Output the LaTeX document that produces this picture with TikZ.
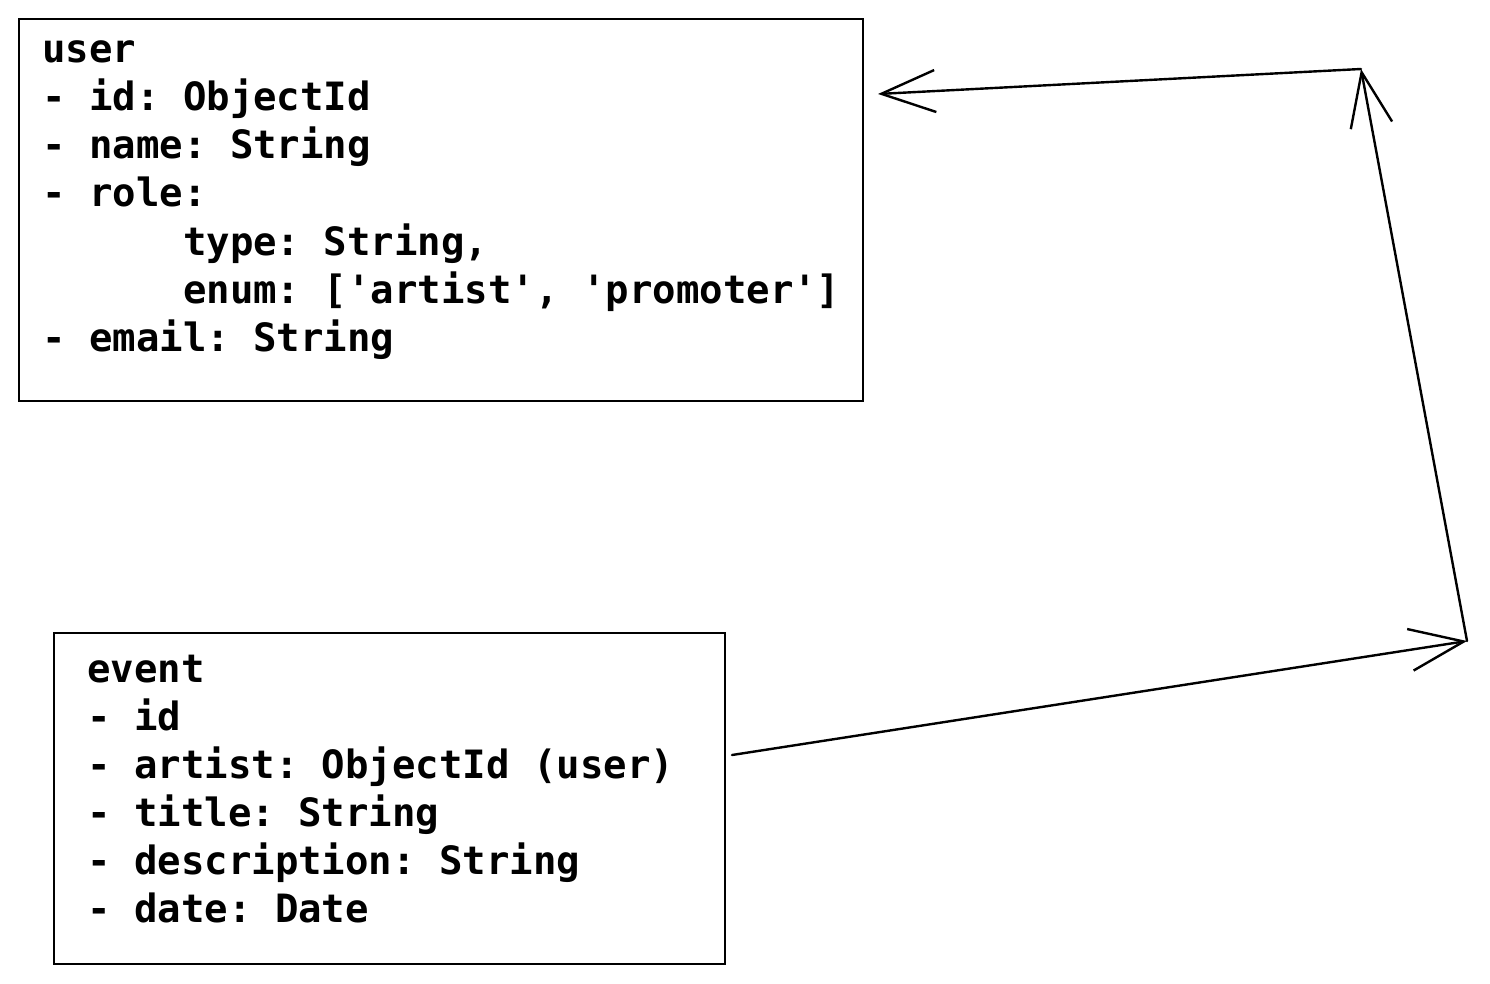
\documentclass[tikz,border=0pt]{standalone}
\usepackage{fontspec}
\setmonofont{DejaVu Sans Mono}
\usetikzlibrary{arrows.meta}
\tikzset{
  x=1pt,y=-1pt,
  boxstyle/.style={draw=black, line width=2.2pt, inner sep=0pt, anchor=north west},
  linetext/.style={anchor=base west, inner sep=0pt, font=\ttfamily\bfseries\fontsize{39}{48}\selectfont},
  conn/.style={draw=black, line width=2.4pt, line cap=round, -{Straight Barb[length=54pt,width=42pt,line width=2.4pt]}}
}
\begin{document}
\begin{tikzpicture}
\useasboundingbox (0,0) rectangle (1490,984);
\fill[white] (0,0) rectangle (1490,984);
% boxes
\node[boxstyle, minimum width=844pt, minimum height=382pt] (userbox) at (18,18) {};
\node[boxstyle, minimum width=671pt, minimum height=331pt] (eventbox) at (53,632) {};
% user text
\node[linetext] (u1) at (42,63) {user};
\node[linetext] (u2) at (42,111) {- id: ObjectId};
\node[linetext] (u3) at (42,159) {- name: String};
\node[linetext] (u4) at (42,207) {- role:};
\node[linetext] (u5) at (42,255) {\hphantom{xxxxxx}type: String,};
\node[linetext] (u6) at (42,303) {\hphantom{xxxxxx}enum: ['artist', 'promoter']};
\node[linetext] (u7) at (42,351) {- email: String};
% event text
\node[linetext] (e1) at (87,682) {event};
\node[linetext] (e2) at (87,730) {- id};
\node[linetext] (e3) at (87,778) {- artist: ObjectId (user)};
\node[linetext] (e4) at (87,826) {- title: String};
\node[linetext] (e5) at (87,874) {- description: String};
\node[linetext] (e6) at (87,922) {- date: Date};
% connectors
\coordinate (a0) at (732,755);
\coordinate (a1) at (1467,641);
\coordinate (a2) at (1361,69);
\coordinate (a3) at (878,94);
\draw[conn] (a0) -- (a1);
\draw[conn] (a1) -- (a2);
\draw[conn] (a2) -- (a3);
\end{tikzpicture}
\end{document}
